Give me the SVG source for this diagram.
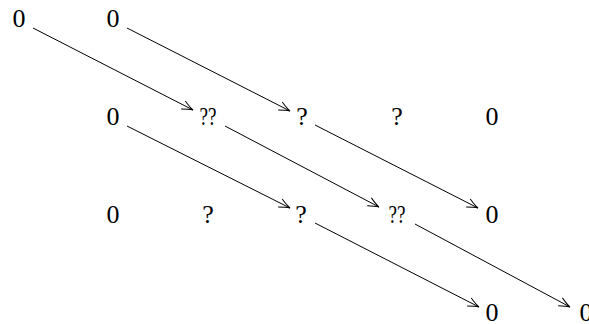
<svg xmlns="http://www.w3.org/2000/svg" width="589" height="324" viewBox="0 0 589 324">
<style>
text{font-family:"Liberation Serif","DejaVu Serif",serif;font-size:26px;fill:#000;text-anchor:middle}
.e{fill:none;stroke:#000;stroke-width:1}
</style>
<defs>
<marker id="ah" viewBox="-12 -6 14 12" markerWidth="14" markerHeight="12" refX="0" refY="0" orient="auto" markerUnits="userSpaceOnUse">
<path d="M-11,-4.5 Q-4,-1 0,0 Q-4,1 -11,4.5" fill="none" stroke="#000" stroke-width="1"/>
</marker>
</defs>
<rect width="589" height="324" fill="#fff"/>
<g id="n00"><text x="19" y="27">0</text></g>
<g id="n01"><text x="113" y="27">0</text></g>
<g id="n11"><text x="113" y="125">0</text></g>
<g id="n12"><text x="208" y="125" textLength="17" lengthAdjust="spacingAndGlyphs">??</text></g>
<g id="n13"><text x="302" y="125">?</text></g>
<g id="n14"><text x="397" y="125">?</text></g>
<g id="n15"><text x="492" y="125">0</text></g>
<g id="n21"><text x="113" y="223">0</text></g>
<g id="n22"><text x="208" y="223">?</text></g>
<g id="n23"><text x="301" y="223">?</text></g>
<g id="n24"><text x="397" y="223" textLength="17" lengthAdjust="spacingAndGlyphs">??</text></g>
<g id="n25"><text x="492" y="223">0</text></g>
<g id="n35"><text x="492" y="321">0</text></g>
<g id="n36"><text x="586" y="321">0</text></g>
<g id="edges">
<line class="e" x1="33" y1="28" x2="193" y2="110" marker-end="url(#ah)"/>
<line class="e" x1="127" y1="28" x2="290" y2="111" marker-end="url(#ah)"/>
<line class="e" x1="127" y1="126" x2="290" y2="208" marker-end="url(#ah)"/>
<line class="e" x1="225" y1="126" x2="379" y2="207" marker-end="url(#ah)"/>
<line class="e" x1="315" y1="125" x2="478" y2="208" marker-end="url(#ah)"/>
<line class="e" x1="315" y1="223" x2="479" y2="307" marker-end="url(#ah)"/>
<line class="e" x1="415" y1="224" x2="570" y2="307" marker-end="url(#ah)"/>
</g>
</svg>
